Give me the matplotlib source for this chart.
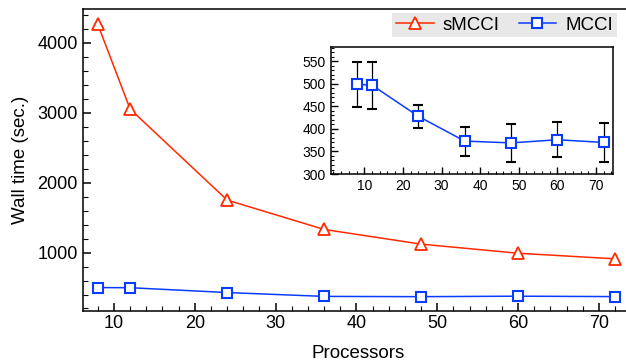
import matplotlib.pyplot as plt
from matplotlib.ticker import MultipleLocator

plt.rcParams['font.family'] = ['Liberation Sans', 'DejaVu Sans']

# data
procs = [8, 12, 24, 36, 48, 60, 72]
smcci = [4260, 3050, 1750, 1330, 1120, 990, 910]
mcci = [499, 497, 428, 373, 369, 376, 370]
mcci_err = [50, 52, 25, 32, 43, 39, 43]

red = '#ff2a00'
blue = '#0a3cff'

fig = plt.figure(figsize=(6.26, 3.62), dpi=100)
ax = fig.add_axes([0.1321, 0.142, 0.88, 0.833])

ax.plot(procs, smcci, color=red, lw=1.1, marker='^', ms=8.5, mfc='white',
        mec=red, mew=1.3, label='sMCCI')
ax.plot(procs, mcci, color=blue, lw=1.1, marker='s', ms=7, mfc='white',
        mec=blue, mew=1.5, label='MCCI')

ax.set_xlim(6.13, 74.3)
ax.set_ylim(170, 4480)
ax.xaxis.set_major_locator(MultipleLocator(10))
ax.xaxis.set_minor_locator(MultipleLocator(2))
ax.yaxis.set_major_locator(MultipleLocator(1000))
ax.yaxis.set_minor_locator(MultipleLocator(200))
ax.tick_params(which='both', direction='in', labelsize=13, top=False, right=False)
ax.tick_params(which='major', length=6, width=1.1)
ax.tick_params(which='minor', length=3.5, width=0.8)
for s in ax.spines.values():
    s.set_linewidth(1.1)
ax.set_xlabel('Processors', fontsize=13.5, labelpad=9)
ax.set_ylabel('Wall time (sec.)', fontsize=13.5, labelpad=6)

leg = ax.legend(loc='upper right', bbox_to_anchor=(0.97, 0.988), ncol=2,
                fontsize=13.5, frameon=True, fancybox=False, framealpha=1,
                borderpad=0.2, columnspacing=1.0, handlelength=2.0,
                handletextpad=0.5, borderaxespad=0)
leg.get_frame().set_facecolor('#e8e8e8')
leg.get_frame().set_edgecolor('none')

# inset with error bars
ins = fig.add_axes([0.5283, 0.5193, 0.4509, 0.35])
ins.errorbar(procs, mcci, yerr=mcci_err, color=blue, lw=1.1, marker='s', ms=7,
             mfc='white', mec=blue, mew=1.5, ecolor='black', elinewidth=0.9,
             capsize=3.5, capthick=0.9, zorder=3)
ins.set_xlim(1.3, 74.4)
ins.set_ylim(300, 581)
ins.xaxis.set_major_locator(MultipleLocator(10))
ins.xaxis.set_minor_locator(MultipleLocator(2))
ins.yaxis.set_major_locator(MultipleLocator(50))
ins.yaxis.set_minor_locator(MultipleLocator(10))
ins.tick_params(which='both', direction='in', labelsize=10, top=False, right=False)
ins.tick_params(which='major', length=5, width=1.0)
ins.tick_params(which='minor', length=2.5, width=0.8)
for s in ins.spines.values():
    s.set_linewidth(1.1)

plt.savefig('out.png', dpi=100)
